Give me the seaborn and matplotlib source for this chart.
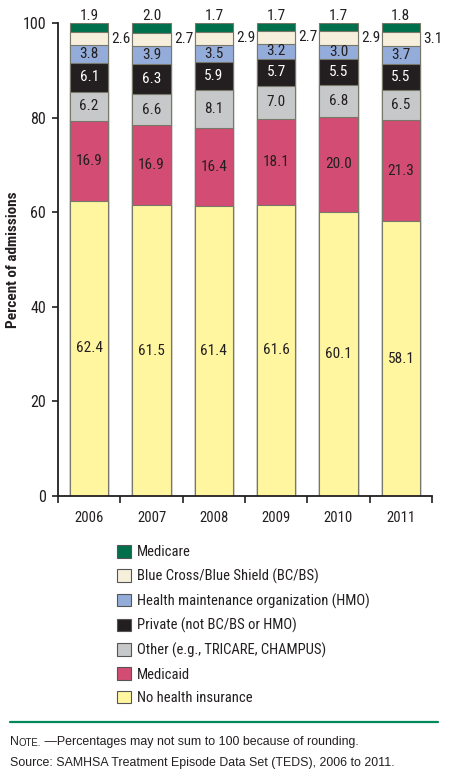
import numpy as np
import matplotlib
matplotlib.use("Agg")
import matplotlib.pyplot as plt
from matplotlib.lines import Line2D
from matplotlib.patches import Patch
import seaborn as sns
import pandas as pd

years = ["2006", "2007", "2008", "2009", "2010", "2011"]
no_insurance = [62.4, 61.5, 61.4, 61.6, 60.1, 58.1]
medicaid = [16.9, 16.9, 16.4, 18.1, 20.0, 21.3]
other = [6.2, 6.6, 8.1, 7.0, 6.8, 6.5]
private = [6.1, 6.3, 5.9, 5.7, 5.5, 5.5]
hmo = [3.8, 3.9, 3.5, 3.2, 3.0, 3.7]
bcbs = [2.6, 2.7, 2.9, 2.7, 2.9, 3.1]
medicare = [1.9, 2.0, 1.7, 1.7, 1.7, 1.8]

# bottom to top
series_names = ["No health insurance", "Medicaid", "Other (e.g., TRICARE, CHAMPUS)",
                "Private (not BC/BS or HMO)", "Health maintenance organization (HMO)",
                "Blue Cross/Blue Shield (BC/BS)", "Medicare"]
series_values = [no_insurance, medicaid, other, private, hmo, bcbs, medicare]
colors = ["#fff69f", "#d24c73", "#c7c8c9", "#231f20", "#94acda", "#f6efdc", "#00704c"]
text_colors = ["#231f20", "#231f20", "#231f20", "white", "#231f20", "#231f20", "#231f20"]

sns.set_style("ticks")
plt.rcParams['font.family'] = ['Roboto Condensed', 'DejaVu Sans']
note_font = ['Liberation Sans', 'DejaVu Sans']
ink = "#231f20"

df = pd.DataFrame(dict(zip(series_names, series_values)), index=years)
cum = df.cumsum(axis=1)
bottoms = cum - df

fig = plt.figure(figsize=(4.5, 7.76), dpi=100)
ax = fig.add_axes([58 / 450, 1 - 496 / 776, 374 / 450, 473 / 776])

edge = "#77776a"
# draw tallest cumulative first so each smaller one covers it
for name, col in reversed(list(zip(series_names, colors))):
    sns.barplot(x=years, y=cum[name].values, color=col, width=0.61,
                edgecolor=edge, linewidth=0.8, saturation=1, ax=ax)

lab_size = 11
for j, name in enumerate(series_names):
    for i, yr in enumerate(years):
        v = df.loc[yr, name]
        mid = bottoms.loc[yr, name] + v / 2
        if name == "Medicare":
            ax.annotate(f"{v:.1f}", (i, cum.loc[yr, name]), xytext=(0, 0),
                        textcoords="offset points", ha="center", va="bottom",
                        fontsize=lab_size, color=text_colors[j])
        elif name.startswith("Blue Cross"):
            ax.annotate(f"{v:.1f}", (i + 0.305, mid), xytext=(2.5, 0),
                        textcoords="offset points", ha="left", va="center",
                        fontsize=lab_size, color=text_colors[j])
        else:
            ax.text(i, mid, f"{v:.1f}", ha="center", va="center",
                    fontsize=lab_size, color=text_colors[j])

ax.set_xlim(-0.5, 5.5)
ax.set_ylim(0, 100)
ax.set_yticks([0, 20, 40, 60, 80, 100])
ax.set_xticks(np.arange(-0.5, 6, 1), minor=True)
ax.tick_params(axis="x", which="major", length=0, pad=11, labelsize=10.5, colors=ink)
ax.tick_params(axis="x", which="minor", length=5, width=1.2, color=ink)
ax.tick_params(axis="y", length=4.5, width=1.2, labelsize=11.5, pad=4, colors=ink)
ax.set_ylabel("Percent of admissions", fontsize=11, fontweight="bold", labelpad=2, color=ink)
ax.set_xlabel("")
for s in ["top", "right"]:
    ax.spines[s].set_visible(False)
for s in ["left", "bottom"]:
    ax.spines[s].set_color(ink)
    ax.spines[s].set_linewidth(1.3)

handles = [Patch(facecolor=c, edgecolor="#555555", linewidth=0.8) for c in colors]
fig.legend(handles[::-1], series_names[::-1], loc="upper left",
           bbox_to_anchor=(117 / 450, 1 - 545 / 776), frameon=False,
           fontsize=10.5, handlelength=0.95, handleheight=0.95,
           labelspacing=0.64, handletextpad=0.4, borderpad=0, borderaxespad=0,
           labelcolor=ink)

fig.add_artist(Line2D([10 / 450, 438 / 450], [1 - 722 / 776, 1 - 722 / 776],
                      color="#00875c", linewidth=1.6))

# "NOTE." set in small caps
t1 = fig.text(10 / 450, 1 - 742 / 776, "N", fontsize=8.9, va="center",
              color=ink, family=note_font)
t2 = ax.annotate("OTE.", xy=(1, 0), xycoords=t1, ha="left", va="bottom",
                 fontsize=6.9, color=ink, family=note_font, annotation_clip=False)
ax.annotate(" \u2014Percentages may not sum to 100 because of rounding.",
            xy=(1, 0), xycoords=t2, ha="left", va="bottom",
            fontsize=8.9, color=ink, family=note_font, annotation_clip=False)
fig.text(10 / 450, 1 - 763 / 776,
         "Source: SAMHSA Treatment Episode Data Set (TEDS), 2006 to 2011.",
         fontsize=8.9, va="center", color=ink, family=note_font)

fig.savefig("out.png", dpi=100)
